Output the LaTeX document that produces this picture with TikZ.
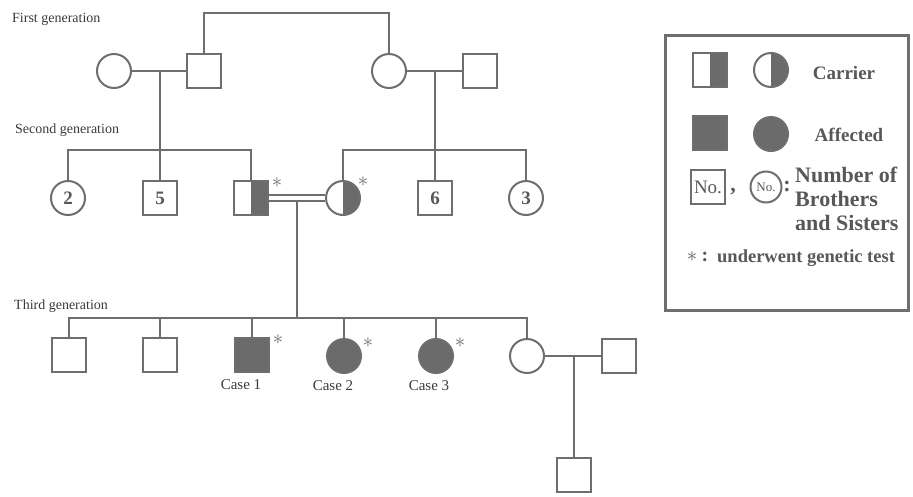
\documentclass[tikz,border=0pt]{standalone}
\usepackage{fontspec}
\setmainfont{Liberation Serif}
\definecolor{lc}{HTML}{6E6E6E}
\definecolor{gf}{HTML}{6B6B6B}
\definecolor{tc}{HTML}{3A3A3A}
\definecolor{lt}{HTML}{585858}
\begin{document}
\begin{tikzpicture}[x=1pt,y=-1pt,
  conn/.style={draw=lc,line width=2pt},
  sq/.style={draw=lc,line width=2pt,fill=white,rectangle,minimum size=34pt,inner sep=0pt},
  ci/.style={draw=lc,line width=2pt,fill=white,circle,minimum size=34pt,inner sep=0pt},
  aff/.style={fill=gf},
  car/.style={path picture={\fill[gf] (path picture bounding box.north) rectangle (path picture bounding box.south east);}},
  num/.style={font=\fontsize{19}{19}\selectfont\bfseries,text=lt},
  ast/.style={text=lc,font=\fontsize{22}{22}\selectfont,inner sep=0pt},
  gen/.style={anchor=west,text=tc,font=\fontsize{14}{14}\selectfont,inner sep=0pt},
  case/.style={text=tc,font=\fontsize{15}{15}\selectfont,inner sep=0pt},
  leg/.style={text=lt,font=\fontsize{19}{20}\selectfont\bfseries,inner sep=0pt}
]
\useasboundingbox (0,0) rectangle (913,496);
\fill[white] (0,0) rectangle (913,496);

% generation labels
\node[gen] (g1) at (12,19) {First generation};
\node[gen] (g2) at (15,130) {Second generation};
\node[gen] (g3) at (14,306) {Third generation};

% first generation
\node[ci] (c1) at (114,71) {};
\node[sq] (s1) at (204,71) {};
\node[ci] (c2) at (389,71) {};
\node[sq] (s2) at (480,71) {};
\coordinate (m1) at (160,71);
\coordinate (m2) at (435,71);
\coordinate (top1) at (204,13);
\draw[conn] (c1.east) -- (s1.west);
\draw[conn] (c2.east) -- (s2.west);
\draw[conn] (s1.north) -- (top1) -| (c2.north);

% second generation
\node[ci,num] (a) at (68,198) {2};
\node[sq,num] (b) at (160,198) {5};
\node[sq,car] (f) at (251,198) {};
\node[ci,car] (m) at (343,198) {};
\node[sq,num] (g) at (435,198) {6};
\node[ci,num] (h) at (526,198) {3};
\coordinate (sib1) at (160,150);
\coordinate (sib2) at (435,150);
\draw[conn] (m1) -- (sib1);
\draw[conn] (a.north) |- (sib1);
\draw[conn] (f.north) |- (sib1);
\draw[conn] (b.north) -- (sib1);
\draw[conn] (m2) -- (sib2);
\draw[conn] (m.north) |- (sib2);
\draw[conn] (h.north) |- (sib2);
\draw[conn] (g.north) -- (sib2);
\draw[conn] ([yshift=2.6pt]f.east) -- ([yshift=2.6pt]m.west);
\draw[conn] ([yshift=-2.6pt]f.east) -- ([yshift=-2.6pt]m.west);
\node[ast] (af) at (277,183) {$\ast$};
\node[ast] (am) at (363,182) {$\ast$};

% third generation
\coordinate (d2) at (297,200.6);
\coordinate (sib3) at (297,318);
\node[sq] (t1) at (69,355) {};
\node[sq] (t2) at (160,355) {};
\node[sq,aff] (t3) at (252,355) {};
\node[ci,aff] (t4) at (344,356) {};
\node[ci,aff] (t5) at (436,356) {};
\node[ci] (t6) at (527,356) {};
\node[sq] (sp) at (619,356) {};
\node[sq] (ch) at (574,475) {};
\coordinate (m3) at (574,356);
\draw[conn] (d2) -- (sib3);
\draw[conn] (t1.north) |- (sib3);
\draw[conn] (t6.north) |- (sib3);
\draw[conn] (t2.north) -- (t2.north |- sib3);
\draw[conn] (t3.north) -- (t3.north |- sib3);
\draw[conn] (t4.north) -- (t4.north |- sib3);
\draw[conn] (t5.north) -- (t5.north |- sib3);
\draw[conn] (t6.east) -- (sp.west);
\draw[conn] (m3) -- (ch.north);
\node[ast] (a3) at (278,340) {$\ast$};
\node[ast] (a4) at (368,343) {$\ast$};
\node[ast] (a5) at (460,343) {$\ast$};
\node[case] (l1) at (241,385) {Case 1};
\node[case] (l2) at (333,386) {Case 2};
\node[case] (l3) at (429,386) {Case 3};

% legend
\node[draw=lc,line width=3pt,minimum width=243pt,minimum height=275pt,inner sep=0pt] (box) at (787,173) {};
\node[sq,car] (lsq1) at (710,70) {};
\node[ci,car] (lci1) at (771,70) {};
\node[leg] (lcar) at (844,73) {Carrier};
\node[sq,aff] (lsq2) at (710,133) {};
\node[ci,aff] (lci2) at (771,134) {};
\node[leg] (laff) at (849,135) {Affected};
\node[sq,text=lt,font=\fontsize{19}{19}\selectfont] (lsq3) at (708,187) {No.};
\node[text=lt,font=\fontsize{22}{22}\selectfont\bfseries,inner sep=0pt] (comma) at (733,192) {,};
\node[ci,text=lt,font=\fontsize{13}{13}\selectfont,minimum size=31pt] (lci3) at (766,187) {No.};
\node[text=lt,font=\fontsize{22}{22}\selectfont\bfseries,inner sep=0pt] (colon) at (787,186) {:};
\node[leg,anchor=north west,align=left,font=\fontsize{22}{24}\selectfont\bfseries] (lnum) at (795,167) {Number of\\Brothers\\and Sisters};
\node[text=lt,font=\fontsize{22}{22}\selectfont,inner sep=0pt] (last) at (692,257) {$\ast$};
\node[text=lt,font=\fontsize{20}{20}\selectfont\bfseries,inner sep=0pt] (lcol) at (705,257) {:};
\node[leg,anchor=west,font=\fontsize{18.5}{19}\selectfont\bfseries] (ltest) at (717,258) {underwent genetic test};
\end{tikzpicture}
\end{document}
